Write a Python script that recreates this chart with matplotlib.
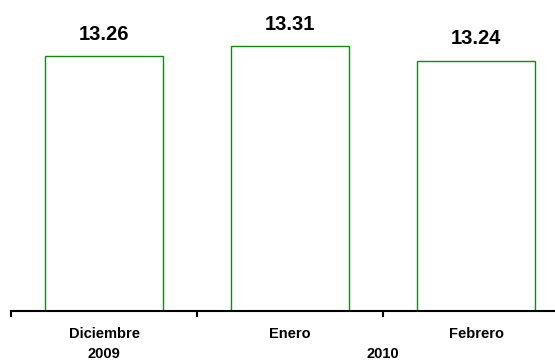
import matplotlib
matplotlib.use("Agg")
import matplotlib.pyplot as plt

plt.rcParams['font.family'] = ['Liberation Sans', 'DejaVu Sans']

# Tasa por mes
meses = ['Diciembre', 'Enero', 'Febrero']
valores = [13.26, 13.31, 13.24]
anios = ['2009', '2010']
anio_pos = [0, 1.5]

W, H = 555, 360
fig = plt.figure(figsize=(W / 100, H / 100), dpi=100)
# el eje arranca en x=11 px y cada mes ocupa 186 px (el ultimo queda cortado)
ax = fig.add_axes([11 / W, (H - 311) / H, 558 / W, 303 / H])

x = list(range(len(meses)))
ax.bar(x, [v - 12 for v in valores], bottom=12, width=0.63,
       color='white', edgecolor='#138a13', linewidth=1.0)

for xi, v in zip(x, valores):
    ax.annotate(f'{v:.2f}', xy=(xi, v), xytext=(0, 16), textcoords='offset points',
                ha='center', va='center', fontsize=14.5, fontweight='bold')

ax.set_xlim(-0.5, 2.5)
ax.set_ylim(12, 13.5)

for s in ['left', 'right', 'top']:
    ax.spines[s].set_visible(False)
ax.spines['bottom'].set_linewidth(1.5)
ax.set_yticks([])
ax.set_xticks([-0.5, 0.5, 1.5, 2.5])
ax.set_xticklabels([])
ax.tick_params(axis='x', direction='out', length=4, width=1.5)

tr = ax.get_xaxis_transform()
for xi, m in zip(x, meses):
    ax.text(xi, -23 / 303, m, transform=tr, ha='center', va='center',
            fontsize=10.5, fontweight='bold')
for xp, a in zip(anio_pos, anios):
    ax.text(xp, -43 / 303, a, transform=tr, ha='center', va='center',
            fontsize=10.5, fontweight='bold')

fig.savefig('out.png', dpi=100)
